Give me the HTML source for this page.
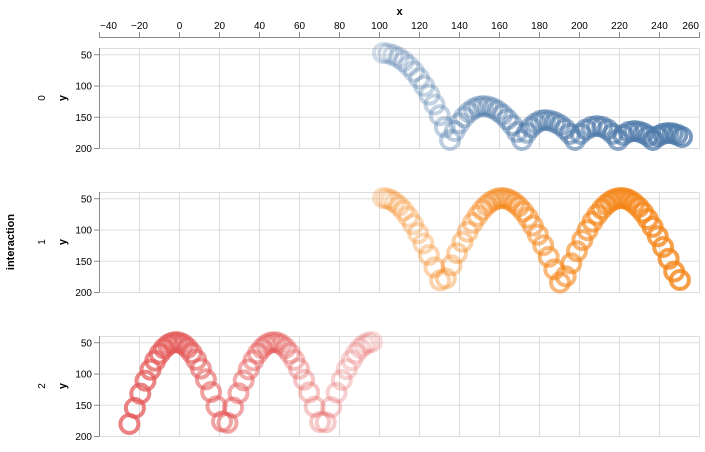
<!DOCTYPE html>
<html><head><meta charset="utf-8"><style>
html,body{margin:0;padding:0;background:#fff}
svg{display:block;font-family:"Liberation Sans","DejaVu Sans",sans-serif}
</style></head><body>
<svg id="s" width="705" height="452" viewBox="0 0 705 452" xmlns="http://www.w3.org/2000/svg"></svg>
<script>
const s=document.getElementById('s');let h='';
const X=v=>179.5+2*v;
h+='<text x="399.5" y="15" text-anchor="middle" font-size="11" font-weight="bold">x</text>';
h+='<line x1="99.5" y1="37.5" x2="699.5" y2="37.5" stroke="#888"/>';
for(let v=-40;v<=260;v+=20){const x=X(v);const a=v==-40?'start':v==260?'end':'middle';const tx=v==-40?x+0.5:v==260?x-0.5:x;h+=`<line x1="${x}" y1="32" x2="${x}" y2="37.5" stroke="#888"/><text x="${tx}" y="29" text-anchor="${a}" font-size="10" fill="#000">${v<0?'−'+(-v):v}</text>`;}
h+='<text transform="translate(14,242) rotate(-90)" text-anchor="middle" font-size="11" font-weight="bold">interaction</text>';
const rows=[48,192,336];
rows.forEach((t,i)=>{
  const Y=v=>t+(v-40)*0.625;
  h+=`<rect x="99.5" y="${t+0.5}" width="600" height="100" fill="none" stroke="#ddd"/>`;
  for(let v=-40;v<=260;v+=20)h+=`<line x1="${X(v)}" y1="${t}" x2="${X(v)}" y2="${t+100}" stroke="#ddd"/>`;
  for(let v=50;v<=200;v+=50){const y=Y(v)+0.5;h+=`<line x1="99.5" y1="${y}" x2="699.5" y2="${y}" stroke="#ddd"/><line x1="94" y1="${y}" x2="99.5" y2="${y}" stroke="#888"/><text x="92" y="${y+3.5}" text-anchor="end" font-size="10">${v}</text>`;}
  h+=`<line x1="99.5" y1="${t}" x2="99.5" y2="${t+100}" stroke="#888"/>`;
  h+=`<text transform="translate(66,${t+50}) rotate(-90)" text-anchor="middle" font-size="11" font-weight="bold">y</text>`;
  h+=`<text transform="translate(45,${t+50}) rotate(-90)" text-anchor="middle" font-size="10">${i}</text>`;
});
function circ(x,y,c,o){return `<circle cx="${x.toFixed(1)}" cy="${y.toFixed(1)}" r="9" fill="none" stroke="${c}" stroke-width="4" stroke-opacity="${o.toFixed(2)}"/>`;}
const kp=[[383,53],[450,140],[483,106],[522,140],[545,120],[575,140],[597,126],[618,140],[634,131],[653,140],[668,133],[682,137]];
const pts0=[];
for(let k=0;k<kp.length-1;k++){
  const [x0,y0]=kp[k],[x1,y1]=kp[k+1];
  const n=Math.max(3,Math.round((x1-x0)/5));
  for(let j=0;j<n;j++){const f=j/n;const x=x0+(x1-x0)*f;
    let y;
    if(y0<y1){y=y0+(y1-y0)*f*f;} else {y=y1+(y0-y1)*(1-f)*(1-f);}
    pts0.push([x,y]);}
}
pts0.push(kp[kp.length-1]);
pts0.forEach((p,i)=>h+=circ(p[0],p[1],'#4c78a8',0.25+0.5*i/(pts0.length-1)));
function warp(d,P){const u=d/P;return P*(u-0.03*Math.sin(2*Math.PI*u));}
const n1=62;
for(let i=0;i<=n1;i++){const d=warp((680-383)*i/n1,119);const x=383+d;let y=286-88*Math.abs(Math.cos(Math.PI*d/119));if(i==n1)y=280;h+=circ(x,y,'#f58518',0.25+0.55*i/n1);}
const n2=52;
for(let i=0;i<=n2;i++){const d=warp((372-129)*i/n2,98);const x=372-d;let y=430-88*Math.abs(Math.cos(Math.PI*d/98));if(i==n2)y=424;h+=circ(x,y,'#e45756',0.2+0.55*i/n2);}
s.innerHTML=h;
</script>
</body></html>
